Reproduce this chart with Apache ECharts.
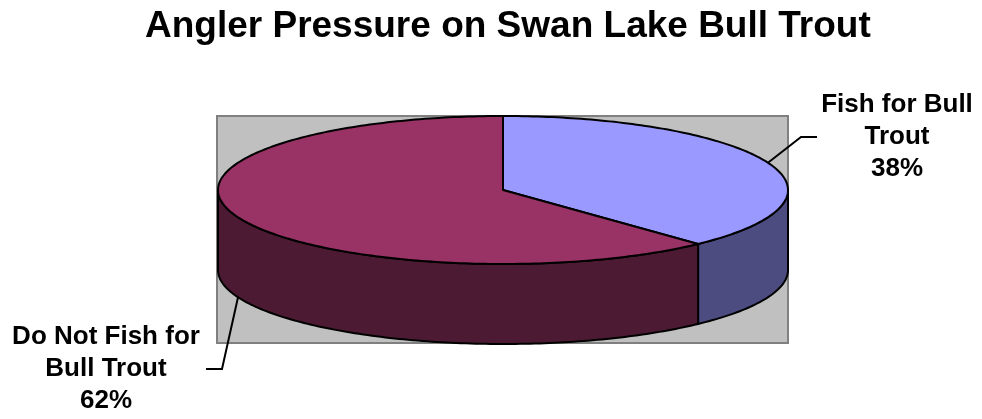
<!DOCTYPE html>
<html>
<head>
<meta charset="utf-8">
<script src="https://cdn.jsdelivr.net/npm/echarts@6/dist/echarts.min.js"></script>
<style>
  html, body { margin: 0; padding: 0; background: #fff; }
  #chart { width: 982px; height: 419px; }
</style>
</head>
<body>
<div id="chart"></div>
<script>
// data
const categories = ['Fish for Bull Trout', 'Do Not Fish for Bull Trout'];
const labelLines = [['Fish for Bull', 'Trout'], ['Do Not Fish for', 'Bull Trout']];
const values = [38, 62];

// look
const topColors = ['#9999FF', '#993366'];
const sideColors = ['#4C4C80', '#4D1A33'];
const FONT = 'Arial, "Liberation Sans", sans-serif';

// pie layout (px)
const pie = { cx: 503, cy: 190, rx: 285, ry: 74, depth: 80 };
const plotBox = { x: 217, y: 116, w: 571, h: 227 };
// label block centres and where the leader line ends
const labelPos = [[897, 137], [106, 369]];
const labelEdge = [817, 206];

const total = values.reduce((a, b) => a + b, 0);

function pt(deg, drop) {
  const r = deg * Math.PI / 180;
  return [pie.cx + pie.rx * Math.sin(r), pie.cy - pie.ry * Math.cos(r) + (drop || 0)];
}

function arc(a0, a1, drop) {
  const pts = [];
  const n = Math.max(2, Math.ceil(Math.abs(a1 - a0)));
  for (let i = 0; i <= n; i++) pts.push(pt(a0 + (a1 - a0) * i / n, drop));
  return pts;
}

function renderItem(params, api) {
  const i = params.dataIndex;
  let start = 0;
  for (let k = 0; k < i; k++) start += values[k];
  const a0 = start / total * 360;
  const a1 = (start + api.value(0)) / total * 360;
  const children = [];

  // outer wall, only the front half (3 o'clock to 9 o'clock) is seen
  const s0 = Math.max(a0, 90), s1 = Math.min(a1, 270);
  if (s1 > s0) {
    const wall = arc(s0, s1, 0).concat(arc(s1, s0, pie.depth));
    children.push({
      type: 'polygon', z2: 1,
      shape: { points: wall },
      style: { fill: sideColors[i], stroke: '#000', lineWidth: 2, lineJoin: 'round' }
    });
  }

  // top face
  children.push({
    type: 'polygon', z2: 5,
    shape: { points: [[pie.cx, pie.cy]].concat(arc(a0, a1, 0)) },
    style: { fill: topColors[i], stroke: '#000', lineWidth: 2, lineJoin: 'round' }
  });

  // leader line from the middle of the slice edge
  const mid = (a0 + a1) / 2;
  const front = mid > 90 && mid < 270;
  const anchor = pt(mid, front ? pie.depth : 0);
  const lp = labelPos[i];
  const dir = lp[0] > pie.cx ? 1 : -1;
  const end = [labelEdge[i], lp[1]];
  const elbow = [end[0] - dir * 16, lp[1]];
  children.push({
    type: 'polyline', z2: 6,
    shape: { points: [anchor, elbow, end] },
    style: { stroke: '#000', lineWidth: 2, fill: null }
  });

  const pct = Math.round(api.value(0) / total * 100) + '%';
  children.push({
    type: 'text', z2: 7,
    x: lp[0], y: lp[1],
    style: {
      text: labelLines[i].concat([pct]).join('\n'),
      fill: '#000',
      fontSize: 26, fontWeight: 'bold', fontFamily: FONT,
      lineHeight: 32,
      align: 'center', verticalAlign: 'middle'
    }
  });

  return { type: 'group', children: children };
}

const chart = echarts.init(document.getElementById('chart'));
chart.setOption({
  animation: false,
  backgroundColor: '#fff',
  title: {
    text: 'Angler Pressure on Swan Lake Bull Trout',
    left: 140,
    top: 3,
    textStyle: { fontSize: 37, fontWeight: 'bold', fontFamily: FONT, color: '#000' }
  },
  graphic: [{
    type: 'rect', z: 0,
    shape: { x: plotBox.x, y: plotBox.y, width: plotBox.w, height: plotBox.h },
    style: { fill: '#C0C0C0', stroke: '#808080', lineWidth: 2 }
  }],
  series: [{
    type: 'custom',
    coordinateSystem: 'none',
    z: 2,
    renderItem: renderItem,
    data: values.map((v, i) => ({ name: categories[i], value: [v] }))
  }]
});
</script>
</body>
</html>
